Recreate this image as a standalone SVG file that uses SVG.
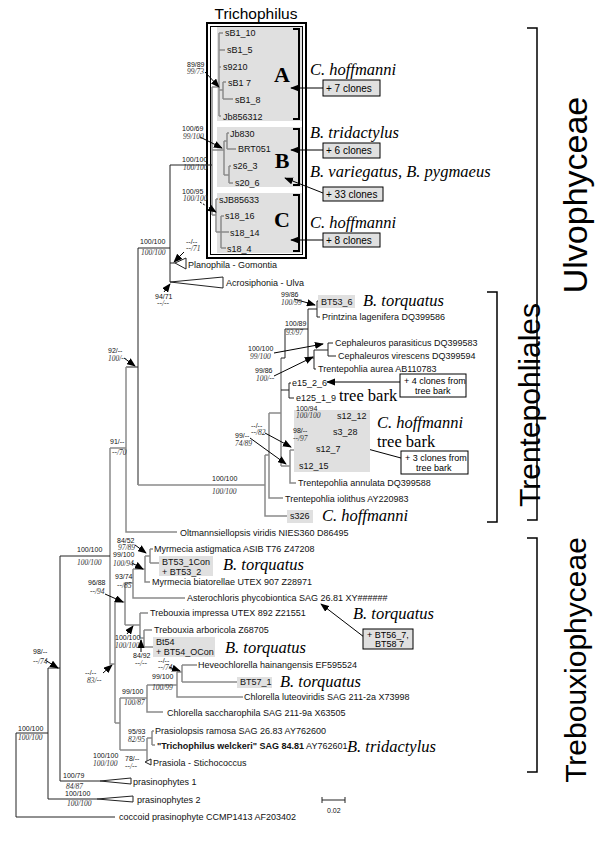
<svg xmlns="http://www.w3.org/2000/svg" width="600" height="846" viewBox="0 0 600 846">
<style>
.k{stroke:#222;stroke-width:1;fill:none}
.g{stroke:#8a8a8a;stroke-width:1.5;fill:none}
.a{stroke:#000;stroke-width:1;fill:none;marker-end:url(#ah)}
.ad{stroke:#000;stroke-width:1;fill:none;stroke-dasharray:2 1.5;marker-end:url(#ah)}
.l{font-family:"Liberation Sans",Arial,sans-serif;font-size:9px;fill:#111}
.s{font-family:"Liberation Sans",Arial,sans-serif;font-size:7px;fill:#111}
.si{font-family:"Liberation Serif","Times New Roman",serif;font-style:italic;font-size:7.5px;fill:#333}
.sp{font-family:"Liberation Serif","Times New Roman",serif;font-style:italic;font-size:16.5px;fill:#000}
.tb{font-family:"Liberation Serif","Times New Roman",serif;font-size:16.5px;fill:#000}
.big{font-family:"Liberation Sans",Arial,sans-serif;fill:#000}
.let{font-family:"Liberation Serif","Times New Roman",serif;font-weight:bold;font-size:22px;fill:#000}
.c{font-family:"Liberation Sans",Arial,sans-serif;font-size:10px;fill:#000}
.c9{font-family:"Liberation Sans",Arial,sans-serif;font-size:9px;fill:#000}
.gb{fill:#e0e0e0;stroke:none}
.cb{fill:#e0e0e0;stroke:#000;stroke-width:1}
.wb{fill:#fff;stroke:#000;stroke-width:1}
.br{stroke:#000;stroke-width:2;fill:none}
.br1{stroke:#000;stroke-width:1.5;fill:none}
.tri{fill:#fff;stroke:#222;stroke-width:1}
</style>
<defs>
<marker id="ah" viewBox="0 0 10 8" refX="9" refY="4" markerWidth="9" markerHeight="7.2" markerUnits="userSpaceOnUse" orient="auto"><path d="M0,0 L10,4 L0,8 z" fill="#000"/></marker>
</defs>
<rect width="600" height="846" fill="#fff"/>

<!-- Trichophilus frame and clade boxes -->
<g id="trichophilus-box">
<text x="256" y="19" text-anchor="middle" class="big" font-size="15.5">Trichophilus</text>
<rect x="217" y="27" width="86" height="94" class="gb"/>
<rect x="217" y="127" width="86" height="60" class="gb"/>
<rect x="217" y="193" width="86" height="60" class="gb"/>
<rect x="207" y="23" width="99" height="235" class="br"/>
<rect x="210.5" y="26.5" width="92" height="228" fill="none" stroke="#000" stroke-width="1"/>
<path class="br" d="M293,29 H299 V119 H293 M293,129 H299 V185 H293 M293,195 H299 V251 H293"/>
<text x="282" y="82" text-anchor="middle" class="let">A</text>
<text x="282" y="168" text-anchor="middle" class="let">B</text>
<text x="282" y="227" text-anchor="middle" class="let">C</text>
</g>

<!-- connectors: tree branches and arrows -->
<g id="connectors">
<path class="g" d="M219,33 V116 M219,33 H223 M219,50 H225 M219,67 H221 M219,90 H223 M223,82 V99 M223,82 H226 M223,99 H233 M219,116 H221
M224,141 V175 M224,141 H227 M227,133 V149 M227,133 H229 M227,149 H236 M224,175 H229 M229,166 V183 M229,166 H231 M229,183 H233
M216,199 V232 M216,199 H218 M216,232 H221 M221,216 V248 M221,216 H224 M221,232 H229 M221,248 H226
M212,87 V215 M212,87 H219 M212,150 H224 M212,215 H216"/>
<path class="k" d="M170,165 H212 M170,165 V282 M170,263 H175 M138,248 H170 M138,248 V485 M126,367 H138"/>
<polygon class="tri" points="175,263 186,258 186,269"/>
<polygon class="tri" points="170,282 223,277 223,288"/>
<path class="g" d="M126,367 V532 H177 M110,448 H126 M110,448 V664 H115"/>
<path class="k" d="M60,556 H110"/>
<!-- Trentepohliales -->
<path class="g" d="M138,485 H265 M265,455 V516 H288 M265,455 H269 M269,413 V498 H283 M269,413 H281 M281,358 V466"/>
<path class="k" d="M281,358 H285 V329 H308 M308,309 V358 M308,309 H317 M317,301 V317 M317,301 H319 M317,317 H320 M308,358 H314 M314,350 V369 M314,350 H328 M328,343 V356 M328,343 H333 M328,356 H336 M314,369 H316
M281,390 H289 M289,383 V398 M289,383 H291 M289,398 H294"/>
<path class="g" d="M281,466 H290 M290,450 V483 H296 M290,450 H295 M295,436 V466 H298 M295,436 H308 M308,423 V449 H314 M308,423 H318 M318,416 V432 M318,416 H334 M318,432 H331"/>
<!-- Trebouxiophyceae -->
<path class="g" d="M115,602 V723 M115,602 H125 M125,583 V625 M125,583 H133 M133,569 V598 H185 M133,569 H145 M145,556 V582 H150 M145,556 H150 M150,549 V563 M150,549 H153 M150,563 H159
M125,625 H140 M140,613 V638 M140,613 H148 M140,638 H144 M144,630 V647 M144,630 H152 M144,647 H153
M115,723 H120 M120,698 V750 M120,698 H147 M147,685 V712 H163 M147,685 H177 M177,672 V697 H243 M177,672 H182 M182,665 V682 M182,665 H197 M182,682 H237
M120,750 H147 M147,738 V762 M147,738 H152 M152,731 V745 M152,731 H154 M152,745 H155"/>
<polygon class="tri" points="145,762 151,759 151,765"/>
<!-- outgroups -->
<path class="k" d="M60,556 V781 H100 M48,668 H60 M48,668 V799 H97 M16,733 H48 M16,733 V817 H115"/>
<polygon class="tri" points="100,781 131,778 131,784"/>
<polygon class="tri" points="97,799 133,796 133,802"/>
<!-- support arrows -->
<path class="a" d="M205,72 L219,87"/>
<path class="a" d="M200,137 L222,148"/>
<path class="ad" d="M200,202 L216,212"/>
<path class="a" d="M184,252 L174,262"/>
<path class="a" d="M164,292 L170,284"/>
<path class="a" d="M124,358 L135,366"/>
<path class="a" d="M294,299 L315,305"/>
<path class="a" d="M274,353 L323,344"/>
<path class="a" d="M274,376 L313,357"/>
<path class="a" d="M308,414 L318,422"/>
<path class="a" d="M265,433 L291,447"/>
<path class="a" d="M250,438 L286,464"/>
<path class="a" d="M135,545 L146,553"/>
<path class="a" d="M132,563 L143,569"/>
<path class="a" d="M105,594 L123,602"/>
<path class="a" d="M127,634 L133,626"/>
<path class="a" d="M141,652 L141,640"/>
<path class="a" d="M169,667 L180,671"/>
<path class="a" d="M103,673 L112,665"/>
<path class="a" d="M45,660 L58,668"/>
<!-- annotation arrows -->
<path class="a" d="M323,88 L291,88"/>
<path class="a" d="M323,150 L291,150"/>
<path class="a" d="M323,193 L285,178"/>
<path class="a" d="M323,240 L291,240"/>
<path class="a" d="M400,382 L327,382"/>
<path class="a" d="M401,458 L327,438"/>
<path class="a" d="M364,637 L321,604"/>
</g>

<!-- gray highlight boxes -->
<g id="highlights">
<rect x="318" y="295" width="37" height="13" class="gb"/>
<rect x="294" y="410" width="76" height="62" class="gb"/>
<rect x="287" y="510" width="26" height="13" class="gb"/>
<rect x="159" y="556" width="54" height="20" class="gb"/>
<rect x="153" y="637" width="62" height="20" class="gb"/>
<rect x="237" y="677" width="35" height="11" class="gb"/>
</g>

<!-- leaves -->
<g id="leaf-sB1_10"><text x="225" y="36" class="l">sB1_10</text></g>
<g id="leaf-sB1_5"><text x="227" y="53" class="l">sB1_5</text></g>
<g id="leaf-s9210"><text x="223" y="70" class="l">s9210</text></g>
<g id="leaf-sB1_7"><text x="228" y="86" class="l">sB1 7</text></g>
<g id="leaf-sB1_8"><text x="235" y="103" class="l">sB1_8</text></g>
<g id="leaf-Jb856312"><text x="223" y="120" class="l">Jb856312</text></g>
<g id="leaf-Jb830"><text x="230" y="137" class="l">Jb830</text></g>
<g id="leaf-BRT051"><text x="238" y="152" class="l">BRT051</text></g>
<g id="leaf-s26_3"><text x="233" y="169" class="l">s26_3</text></g>
<g id="leaf-s20_6"><text x="235" y="186" class="l">s20_6</text></g>
<g id="leaf-sJB85633"><text x="219" y="203" class="l">sJB85633</text></g>
<g id="leaf-s18_16"><text x="225" y="219" class="l">s18_16</text></g>
<g id="leaf-s18_14"><text x="230" y="236" class="l">s18_14</text></g>
<g id="leaf-s18_4"><text x="227" y="252" class="l">s18_4</text></g>
<g id="leaf-planophila"><text x="188" y="268" class="l">Planophila - Gomontia</text></g>
<g id="leaf-acrosiphonia"><text x="226" y="286" class="l">Acrosiphonia - Ulva</text></g>
<g id="leaf-BT53_6"><text x="321" y="305" class="l">BT53_6</text></g>
<g id="leaf-printzina"><text x="322" y="320" class="l">Printzina lagenifera DQ399586</text></g>
<g id="leaf-ceph-par"><text x="335" y="346" class="l">Cephaleuros parasiticus DQ399583</text></g>
<g id="leaf-ceph-vir"><text x="338" y="359" class="l">Cephaleuros virescens DQ399594</text></g>
<g id="leaf-t-aurea"><text x="318" y="372" class="l">Trentepohlia aurea AB110783</text></g>
<g id="leaf-e15_2_6"><text x="292" y="386" class="l">e15_2_6</text></g>
<g id="leaf-e125_1_9"><text x="296" y="401" class="l">e125_1_9</text></g>
<g id="leaf-s12_12"><text x="337" y="419" class="l">s12_12</text></g>
<g id="leaf-s3_28"><text x="333" y="435" class="l">s3_28</text></g>
<g id="leaf-s12_7"><text x="316" y="452" class="l">s12_7</text></g>
<g id="leaf-s12_15"><text x="299" y="469" class="l">s12_15</text></g>
<g id="leaf-t-annulata"><text x="298" y="486" class="l">Trentepohlia annulata DQ399588</text></g>
<g id="leaf-t-iolithus"><text x="285" y="502" class="l">Trentepohlia iolithus AY220983</text></g>
<g id="leaf-s326"><text x="290" y="519" class="l">s326</text></g>
<g id="leaf-oltmannsiellopsis"><text x="180" y="536" class="l">Oltmannsiellopsis viridis NIES360 D86495</text></g>
<g id="leaf-myrmecia-ast"><text x="154" y="552" class="l">Myrmecia astigmatica ASIB T76 Z47208</text></g>
<g id="leaf-BT53_1"><text x="162" y="565" class="l">BT53_1Con</text><text x="162" y="575" class="l">+ BT53_2</text></g>
<g id="leaf-myrmecia-bia"><text x="152" y="585" class="l">Myrmecia biatorellae UTEX 907 Z28971</text></g>
<g id="leaf-asterochloris"><text x="187" y="601" class="l">Asterochloris phycobiontica SAG 26.81 XY######</text></g>
<g id="leaf-trebouxia-imp"><text x="150" y="616" class="l">Trebouxia impressa UTEX 892 Z21551</text></g>
<g id="leaf-trebouxia-arb"><text x="154" y="633" class="l">Trebouxia arboricola Z68705</text></g>
<g id="leaf-Bt54"><text x="156" y="645" class="l">Bt54</text><text x="156" y="655" class="l">+ BT54_OCon</text></g>
<g id="leaf-heveochlorella"><text x="198" y="668" class="l">Heveochlorella hainangensis EF595524</text></g>
<g id="leaf-BT57_1"><text x="240" y="685" class="l">BT57_1</text></g>
<g id="leaf-chlorella-lut"><text x="244" y="700" class="l">Chlorella luteoviridis SAG 211-2a X73998</text></g>
<g id="leaf-chlorella-sac"><text x="167" y="716" class="l">Chlorella saccharophila SAG 211-9a X63505</text></g>
<g id="leaf-prasiolopsis"><text x="155" y="734" class="l">Prasiolopsis ramosa SAG 26.83 AY762600</text></g>
<g id="leaf-t-welckeri"><text x="157" y="749" class="l"><tspan font-weight="bold">"Trichophilus welckeri" SAG 84.81</tspan> AY762601</text></g>
<g id="leaf-prasiola"><text x="153" y="766" class="l">Prasiola - Stichococcus</text></g>
<g id="leaf-prasinophytes1"><text x="133" y="785" class="l">prasinophytes 1</text></g>
<g id="leaf-prasinophytes2"><text x="137" y="803" class="l">prasinophytes 2</text></g>
<g id="leaf-coccoid"><text x="119" y="820" class="l">coccoid prasinophyte CCMP1413 AF203402</text></g>

<!-- support values -->
<g id="support">
<text x="187" y="67" class="s">89/89</text><text x="187" y="74" class="si">99/73</text>
<text x="182" y="131" class="s">100/69</text><text x="183" y="139" class="si">99/100</text>
<text x="182" y="162" class="s">100/100</text><text x="183" y="170" class="si">100/100</text>
<text x="182" y="194" class="s">100/95</text><text x="183" y="201" class="si">100/100</text>
<text x="186" y="244" class="s">--/--</text><text x="186" y="251" class="si">--/71</text>
<text x="140" y="244" class="s">100/100</text><text x="141" y="255" class="si">100/100</text>
<text x="155" y="299" class="s">94/71</text><text x="157" y="306" class="si">--/--</text>
<text x="108" y="353" class="s">92/--</text><text x="108" y="361" class="si">100/--</text>
<text x="110" y="444" class="s">91/--</text><text x="112" y="455" class="si">--/70</text>
<text x="212" y="481" class="s">100/100</text><text x="212" y="494" class="si">100/100</text>
<text x="281" y="297" class="s">99/86</text><text x="281" y="305" class="si">100/99</text>
<text x="285" y="326" class="s">100/89</text><text x="286" y="335" class="si">93/97</text>
<text x="248" y="351" class="s">100/100</text><text x="250" y="359" class="si">99/100</text>
<text x="255" y="373" class="s">99/86</text><text x="256" y="381" class="si">100/--</text>
<text x="296" y="411" class="s">100/94</text><text x="296" y="418" class="si">100/100</text>
<text x="293" y="433" class="s">98/--</text><text x="293" y="441" class="si">--/97</text>
<text x="251" y="428" class="s">--/--</text><text x="251" y="435" class="si">--/82</text>
<text x="235" y="438" class="s">99/--</text><text x="235" y="446" class="si">74/89</text>
<text x="117" y="543" class="s">84/52</text><text x="118" y="550" class="si">97/89</text>
<text x="77" y="552" class="s">100/100</text><text x="77" y="565" class="si">100/100</text>
<text x="113" y="557" class="s">99/100</text><text x="113" y="566" class="si">100/94</text>
<text x="88" y="585" class="s">96/88</text><text x="90" y="594" class="si">--/94</text>
<text x="115" y="579" class="s">93/74</text><text x="117" y="588" class="si">--/85</text>
<text x="115" y="640" class="s">100/100</text><text x="115" y="648" class="si">100/100</text>
<text x="133" y="658" class="s">84/92</text><text x="135" y="666" class="si">--/--</text>
<text x="158" y="663" class="s">--/--</text><text x="158" y="670" class="si">--/74</text>
<text x="33" y="654" class="s">98/--</text><text x="33" y="664" class="si">--/74</text>
<text x="85" y="675" class="s">--/--</text><text x="87" y="683" class="si">83/--</text>
<text x="152" y="679" class="s">99/100</text><text x="152" y="690" class="si">100/99</text>
<text x="122" y="694" class="s">99/100</text><text x="124" y="705" class="si">100/87</text>
<text x="18" y="731" class="s">100/100</text><text x="18" y="740" class="si">100/100</text>
<text x="128" y="734" class="s">95/93</text><text x="128" y="742" class="si">82/95</text>
<text x="93" y="758" class="s">100/100</text><text x="93" y="766" class="si">100/100</text>
<text x="125" y="761" class="s">78/--</text><text x="125" y="769" class="si">--/--</text>
<text x="63" y="778" class="s">100/79</text><text x="66" y="789" class="si">84/87</text>
<text x="65" y="796" class="s">100/100</text><text x="67" y="806" class="si">100/100</text>
</g>

<!-- species annotations and clone boxes -->
<g id="ann-A"><text x="310" y="75" class="sp">C. hoffmanni</text><rect x="323" y="80" width="57" height="16" class="cb"/><text x="326" y="92" class="c">+  7 clones</text></g>
<g id="ann-B1"><text x="310" y="138" class="sp">B. tridactylus</text><rect x="323" y="143" width="57" height="15" class="cb"/><text x="326" y="154" class="c">+  6 clones</text></g>
<g id="ann-B2"><text x="310" y="177" class="sp">B. variegatus, B. pygmaeus</text><rect x="323" y="187" width="60" height="14" class="cb"/><text x="326" y="198" class="c">+  33 clones</text></g>
<g id="ann-C"><text x="310" y="228" class="sp">C. hoffmanni</text><rect x="323" y="233" width="57" height="14" class="cb"/><text x="326" y="244" class="c">+  8 clones</text></g>
<g id="ann-BT53_6"><text x="363" y="306" class="sp">B. torquatus</text></g>
<g id="ann-e15"><text x="339" y="401" class="tb">tree bark</text><rect x="400" y="374" width="66" height="23" class="wb"/><text x="404" y="384" class="c9">+  4 clones from</text><text x="415" y="394" class="c9">tree bark</text></g>
<g id="ann-s12"><text x="377" y="428" class="sp">C. hoffmanni</text><text x="377" y="447" class="tb">tree bark</text><rect x="401" y="451" width="67" height="23" class="wb"/><text x="405" y="461" class="c9">+  3 clones from</text><text x="416" y="471" class="c9">tree bark</text></g>
<g id="ann-s326"><text x="322" y="521" class="sp">C. hoffmanni</text></g>
<g id="ann-BT53_1"><text x="223" y="570" class="sp">B. torquatus</text></g>
<g id="ann-BT56"><text x="353" y="619" class="sp">B. torquatus</text><rect x="363" y="629" width="50" height="20" class="cb"/><text x="367" y="638" class="c9">+ BT56_7,</text><text x="375" y="647" class="c9">BT58 7</text></g>
<g id="ann-Bt54"><text x="225" y="653" class="sp">B. torquatus</text></g>
<g id="ann-BT57"><text x="280" y="687" class="sp">B. torquatus</text></g>
<g id="ann-welckeri"><text x="347" y="752" class="sp">B. tridactylus</text></g>

<!-- scale bar -->
<g id="scale">
<path class="k" d="M322,800 H345 M322,797 V803 M345,797 V803"/>
<text x="327" y="813" class="s">0.02</text>
</g>

<!-- class brackets -->
<g id="ulvophyceae"><path class="br1" d="M527,28 H537 V520 H527"/><text transform="translate(587,195) rotate(-90)" text-anchor="middle" class="big" font-size="34">Ulvophyceae</text></g>
<g id="trentepohliales"><path class="br1" d="M487,292 H497 V522 H487"/><text transform="translate(540,405) rotate(-90)" text-anchor="middle" class="big" font-size="30">Trentepohliales</text></g>
<g id="trebouxiophyceae"><path class="br1" d="M527,538 H537 V772 H527"/><text transform="translate(586,660) rotate(-90)" text-anchor="middle" class="big" font-size="30">Trebouxiophyceae</text></g>
</svg>
